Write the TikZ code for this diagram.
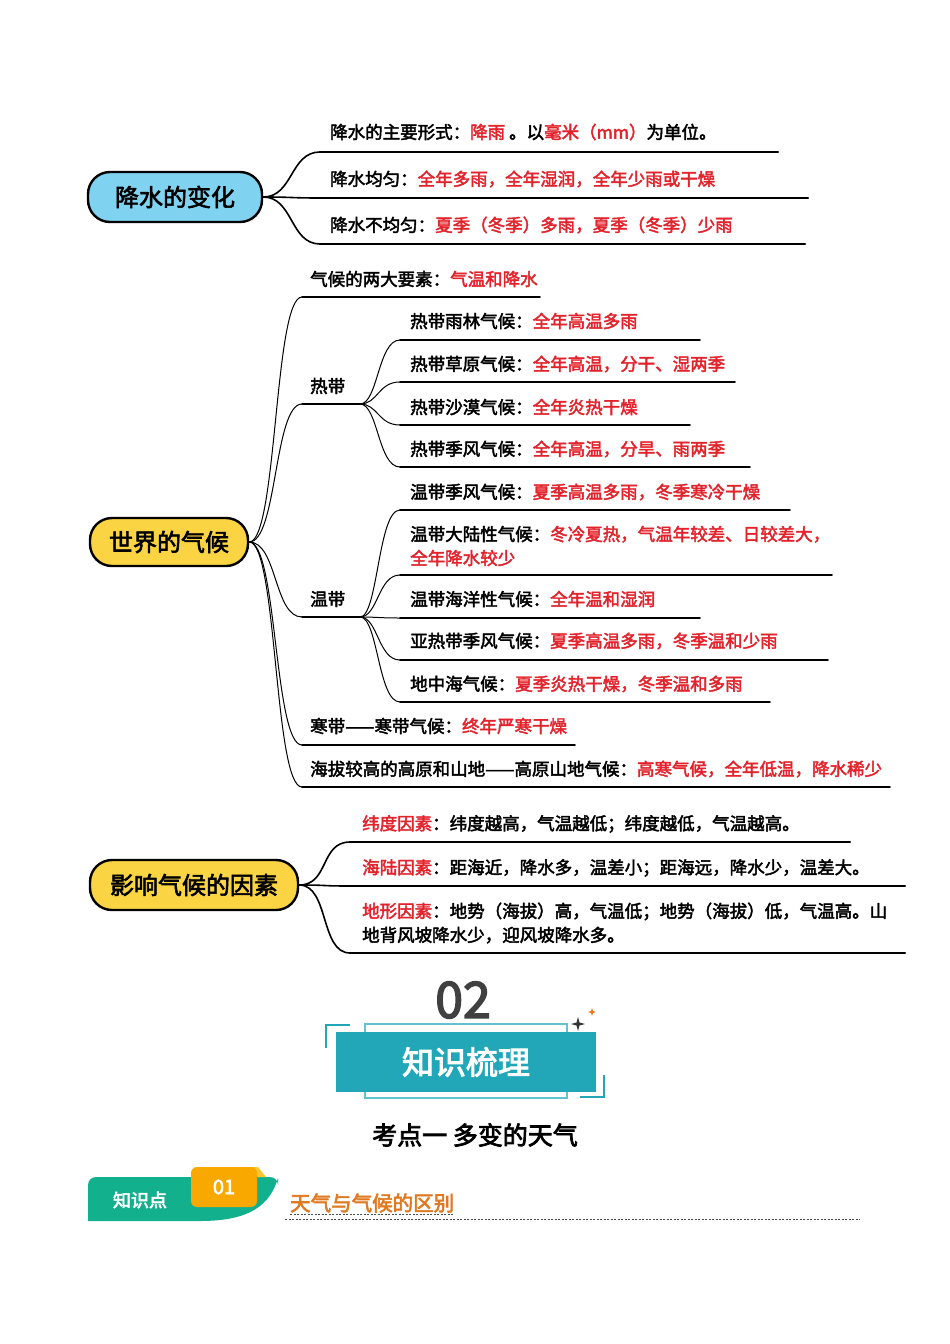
\documentclass[tikz,border=0pt]{standalone}
\usepackage{fontspec}
\usetikzlibrary{calc}
\setmainfont{Noto Sans CJK SC}[AutoFakeBold=2.5]
\newfontfamily\hv{Noto Sans CJK SC}[AutoFakeBold=3]
\definecolor{rd}{HTML}{E2232B}
\definecolor{sky}{HTML}{7FD3F0}
\definecolor{yl}{HTML}{FBD443}
\definecolor{teal}{HTML}{22A7B9}
\definecolor{grn}{HTML}{13B08E}
\definecolor{org}{HTML}{F9A800}
\definecolor{orgt}{HTML}{E07A22}
\newcommand{\R}[1]{\textcolor{rd}{#1}}
\tikzset{
 txt/.style={anchor=west,inner sep=0pt,font=\fontsize{17.5}{24}\selectfont},
 root/.style={rounded corners=22pt,draw=black,line width=2.4pt,inner sep=0pt,font=\fontsize{24}{28}\selectfont\bfseries},
 bar/.style={line width=2.4pt,line cap=round},
 thin/.style={line width=1.8pt,line cap=round},
 br/.style={line width=1.6pt},
 brt/.style={line width=1pt}
}
\begin{document}
\begin{tikzpicture}[x=1pt,y=-1pt]
\useasboundingbox (0,0) rectangle (950,1344);
% ---------- section 1
\node[root,fill=sky,minimum width=174pt,minimum height=50pt] (r1) at (175,197) {降水的变化};
\node[txt] (a1) at (330,132) {\textbf{降水的主要形式：\R{降雨} 。以\R{毫米（mm）}为单位。}};
\node[txt] (a2) at (330,179) {\textbf{降水均匀：\R{全年多雨，全年湿润，全年少雨或干燥}}};
\node[txt] (a3) at (330,225) {\textbf{降水不均匀：\R{夏季（冬季）多雨，夏季（冬季）少雨}}};
\coordinate (a1s) at (320,152); \coordinate (a1e) at (778,152);
\coordinate (a2s) at (320,198); \coordinate (a2e) at (808,198);
\coordinate (a3s) at (320,244); \coordinate (a3e) at (805,244);
\foreach \i in {1,2,3}{
 \draw[bar] (a\i s) -- (a\i e);
 \draw[br] (r1.east) .. controls +(30,0) and ($(a\i s)+(-30,0)$) .. (a\i s);
}
% ---------- section 2
\node[root,fill=yl,minimum width=158pt,minimum height=48pt] (r2) at (169,542) {世界的气候};
\node[txt] (b1) at (310,279) {\textbf{气候的两大要素：\R{气温和降水}}};
\node[txt] (re) at (310,386) {\textbf{热带}};
\node[txt] (wd) at (310,599) {\textbf{温带}};
\node[txt] (b3) at (310,726) {\textbf{寒带——寒带气候：\R{终年严寒干燥}}};
\node[txt] (b4) at (310,769) {\textbf{海拔较高的高原和山地——高原山地气候：\R{高寒气候，全年低温，降水稀少}}};
\coordinate (b1s) at (302,297); \coordinate (b1e) at (540,297);
\coordinate (res) at (302,404); \coordinate (ree) at (360,404);
\coordinate (wds) at (302,617); \coordinate (wde) at (360,617);
\coordinate (b3s) at (302,745); \coordinate (b3e) at (575,745);
\coordinate (b4s) at (302,787); \coordinate (b4e) at (890,787);
\foreach \i in {b1,re,wd,b3,b4}{
 \draw[thin] (\i s) -- (\i e);
 \draw[brt] (r2.east) .. controls +(28,0) and ($(\i s)+(-28,0)$) .. (\i s);
}
\node[txt] (t1) at (410,321) {\textbf{热带雨林气候：\R{全年高温多雨}}};
\node[txt] (t2) at (410,364) {\textbf{热带草原气候：\R{全年高温，分干、湿两季}}};
\node[txt] (t3) at (410,407) {\textbf{热带沙漠气候：\R{全年炎热干燥}}};
\node[txt] (t4) at (410,449) {\textbf{热带季风气候：\R{全年高温，分旱、雨两季}}};
\coordinate (t1s) at (400,340); \coordinate (t1e) at (700,340);
\coordinate (t2s) at (400,382); \coordinate (t2e) at (735,382);
\coordinate (t3s) at (400,425); \coordinate (t3e) at (690,425);
\coordinate (t4s) at (400,467); \coordinate (t4e) at (750,467);
\foreach \i in {t1,t2,t3,t4}{
 \draw[thin] (\i s) -- (\i e);
 \draw[brt] (ree) .. controls +(18,0) and ($(\i s)+(-22,0)$) .. (\i s);
}
\node[txt] (w1) at (410,492) {\textbf{温带季风气候：\R{夏季高温多雨，冬季寒冷干燥}}};
\node[txt,align=left] (w2) at (410,546) {\textbf{温带大陆性气候：\R{冬冷夏热，气温年较差、日较差大，}}\\\textbf{\R{全年降水较少}}};
\node[txt] (w3) at (410,599) {\textbf{温带海洋性气候：\R{全年温和湿润}}};
\node[txt] (w4) at (410,641) {\textbf{亚热带季风气候：\R{夏季高温多雨，冬季温和少雨}}};
\node[txt] (w5) at (410,684) {\textbf{地中海气候：\R{夏季炎热干燥，冬季温和多雨}}};
\coordinate (w1s) at (400,510); \coordinate (w1e) at (790,510);
\coordinate (w2s) at (400,575); \coordinate (w2e) at (832,575);
\coordinate (w3s) at (400,618); \coordinate (w3e) at (700,618);
\coordinate (w4s) at (400,660); \coordinate (w4e) at (828,660);
\coordinate (w5s) at (400,702); \coordinate (w5e) at (770,702);
\foreach \i in {w1,w2,w3,w4,w5}{
 \draw[thin] (\i s) -- (\i e);
 \draw[brt] (wde) .. controls +(18,0) and ($(\i s)+(-22,0)$) .. (\i s);
}
% ---------- section 3
\node[root,fill=yl,minimum width=208pt,minimum height=50pt] (r3) at (194,885) {影响气候的因素};
\node[txt] (c1) at (362,824) {\textbf{\R{纬度因素}：纬度越高，气温越低；纬度越低，气温越高。}};
\node[txt] (c2) at (362,868) {\textbf{\R{海陆因素}：距海近，降水多，温差小；距海远，降水少，温差大。}};
\node[txt,align=left] (c3) at (362,923) {\textbf{\R{地形因素}：地势（海拔）高，气温低；地势（海拔）低，气温高。山}\\\textbf{地背风坡降水少，迎风坡降水多。}};
\coordinate (c1s) at (350,842); \coordinate (c1e) at (850,842);
\coordinate (c2s) at (350,886); \coordinate (c2e) at (905,886);
\coordinate (c3s) at (350,953); \coordinate (c3e) at (905,953);
\foreach \i in {c1,c2,c3}{
 \draw[bar] (\i s) -- (\i e);
 \draw[br] (r3.east) .. controls +(30,0) and ($(\i s)+(-30,0)$) .. (\i s);
}
% ---------- section 4
\node[font=\hv\fontsize{50}{54}\selectfont\bfseries,text=black!75] (n02) at (463,1000) {02};
\draw[teal!70,line width=1.2pt] (365,1024) rectangle (567,1098);
\node[fill=teal,minimum width=260pt,minimum height=60pt,inner sep=0pt,text=white,font=\hv\fontsize{32}{36}\selectfont\bfseries] (zs) at (466,1062) {知识梳理};
\draw[teal,line width=1.6pt] (326,1048) -- (326,1025) -- (350,1025);
\draw[teal,line width=1.6pt] (604,1075) -- (604,1097) -- (580,1097);
\fill[black!80] (578,1017) -- (579.5,1022.5) -- (585,1024) -- (579.5,1025.5) -- (578,1031) -- (576.5,1025.5) -- (571,1024) -- (576.5,1022.5) -- cycle;
\fill[orgt] (592,1008) -- (593,1011) -- (596,1012) -- (593,1013) -- (592,1016) -- (591,1013) -- (588,1012) -- (591,1011) -- cycle;
\node[font=\hv\fontsize{25}{28}\selectfont\bfseries] (kd) at (475,1135) {考点一 多变的天气};
\fill[grn,rounded corners=8pt] (88,1221) -- (88,1177) -- (278,1177) [sharp corners]-- (278,1178) .. controls (270,1205) and (250,1221) .. (200,1221) -- cycle;
\fill[yl!70!org] (250,1167) -- (258,1167) -- (266,1177) -- (250,1177) -- cycle;
\node[fill=org,rounded corners=6pt,minimum width=66pt,minimum height=40pt,inner sep=0pt,text=white,font=\hv\fontsize{20}{22}\selectfont\bfseries] (n01) at (224,1187) {01};
\node[text=white,font=\hv\fontsize{18}{20}\selectfont\bfseries] (zsd) at (140,1200) {知识点};
\node[anchor=west,inner sep=0pt,text=orgt,font=\hv\fontsize{20.5}{22}\selectfont\bfseries] (tq) at (290,1203) {天气与气候的区别};
\draw[black!70,line width=0.6pt,dash pattern=on 2pt off 1.5pt] (tq.south west) ++(0,1.5) -- ($(tq.south east)+(0,1.5)$);
\coordinate (ds) at (285,1219); \coordinate (de) at (860,1219);
\draw[black!70,line width=0.6pt,dash pattern=on 2pt off 1.5pt] (ds) -- (de);
\end{tikzpicture}
\end{document}
